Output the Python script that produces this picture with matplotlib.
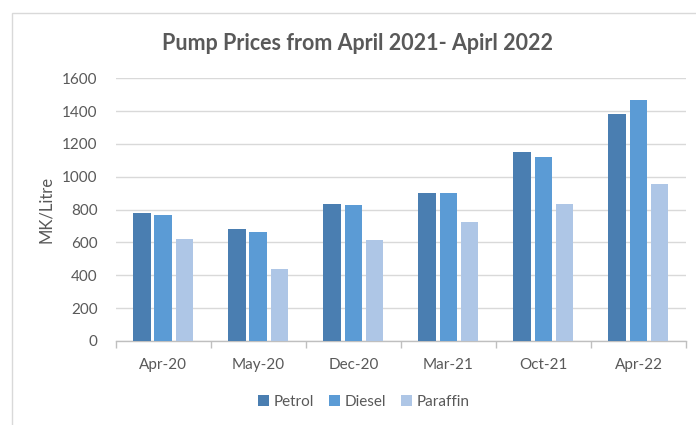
import matplotlib
matplotlib.use("Agg")
import matplotlib.pyplot as plt
import numpy as np
from matplotlib.patches import Rectangle

plt.rcParams['font.family'] = ['Lato', 'DejaVu Sans']

categories = ["Apr-20", "May-20", "Dec-20", "Mar-21", "Oct-21", "Apr-22"]
petrol = [780, 685, 835, 900, 1152, 1380]
diesel = [765, 665, 827, 900, 1118, 1470]
paraffin = [622, 440, 616, 723, 835, 955]
series_names = ["Petrol", "Diesel", "Paraffin"]
colors = ["#4A7EB1", "#5B9BD5", "#AEC6E6"]
yticks = [0, 200, 400, 600, 800, 1000, 1200, 1400, 1600]

W, H = 696, 425
fig = plt.figure(figsize=(W / 100, H / 100), dpi=100)

# chart border
fig.patches.append(Rectangle((11.5 / W, -0.1), 1.2, 1 - 12.5 / H + 0.1,
                             transform=fig.transFigure, fill=False,
                             edgecolor="#D9D9D9", linewidth=1.0))

ax = fig.add_axes([115.7 / W, 1 - 341 / H, (686 - 115.7) / W, (341 - 78.3) / H])

x = np.arange(len(categories))
step = 0.223
bw = 0.185
for i, (vals, name, c) in enumerate(zip([petrol, diesel, paraffin], series_names, colors)):
    ax.bar(x + (i - 1) * step, vals, width=bw, color=c, label=name, zorder=3)

ax.set_xlim(-0.5, len(categories) - 0.5)
ax.set_ylim(0, 1600)
ax.set_yticks(yticks)
ax.set_yticklabels([str(v) for v in yticks])
ax.yaxis.grid(True, color="#D9D9D9", linewidth=1.0, zorder=0)
ax.set_axisbelow(True)

for s in ["top", "right", "left"]:
    ax.spines[s].set_visible(False)
ax.spines["bottom"].set_color("#BFBFBF")
ax.spines["bottom"].set_linewidth(1.0)

ax.set_xticks(x)
ax.set_xticklabels(categories)
ax.set_xticks(np.arange(-0.5, len(categories)), minor=True)
ax.tick_params(axis="x", which="major", length=0, pad=12, labelsize=11, labelcolor="#595959")
ax.tick_params(axis="x", which="minor", length=5, color="#BFBFBF", width=1.0)
ax.tick_params(axis="y", length=0, pad=13, labelsize=11, labelcolor="#595959")

ax.set_ylabel("MK/Litre", fontsize=12, color="#595959", labelpad=6)

fig.text(358 / W, 1 - 43 / H, "Pump Prices from April 2021- Apirl 2022",
         ha="center", va="center", fontsize=15.5, fontweight="bold", color="#595959")

handles, labels = ax.get_legend_handles_labels()
fig.legend(handles, labels, loc="center", bbox_to_anchor=(364 / W, 1 - 402 / H),
           ncol=3, frameon=False, fontsize=11, handlelength=0.7, handleheight=0.7,
           handletextpad=0.3, columnspacing=1.0, labelcolor="#595959")

fig.savefig("out.png", dpi=100)
